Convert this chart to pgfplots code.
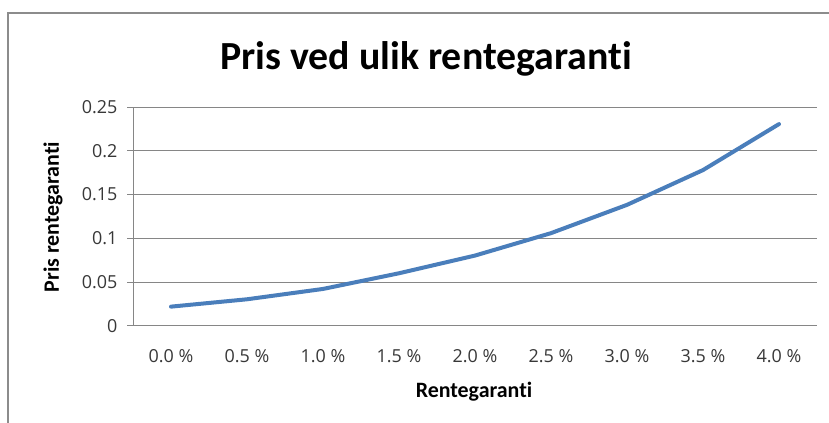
\documentclass[border=0pt]{standalone}
\usepackage{fontspec}
\setmainfont{Carlito}[Ligatures=NoCommon]
\newfontfamily\tickfont{Open Sans}
\usepackage{pgfplots}
\pgfplotsset{compat=1.18}
\definecolor{lineblue}{HTML}{4A7EBB}
\definecolor{gridgray}{HTML}{868686}
\definecolor{bordergray}{HTML}{8C8C8C}
\definecolor{ticktext}{HTML}{383838}
\begin{document}
\begin{tikzpicture}
\path[use as bounding box] (0,0) rectangle (829bp,423bp);
\fill[white] (0,0) rectangle (829bp,423bp);
\draw[bordergray, line width=2bp] (8bp,-5bp) -- (8bp,410bp) -- (840bp,410bp);
\begin{axis}[
  at={(133bp,97bp)}, anchor=south west,
  scale only axis, width=684bp, height=219bp,
  xmin=-0.5, xmax=8.5, ymin=0, ymax=0.25,
  xtick={0,1,2,3,4,5,6,7,8},
  xticklabels={0.0 \%,0.5 \%,1.0 \%,1.5 \%,2.0 \%,2.5 \%,3.0 \%,3.5 \%,4.0 \%},
  ytick={0,0.05,0.1,0.15,0.2,0.25},
  yticklabels={0,0.05,0.1,0.15,0.2,0.25},
  axis lines*=left,
  axis line style={gridgray, line width=1bp},
  ymajorgrids, grid style={gridgray, line width=1bp},
  tick align=outside, major tick length=6bp,
  ytick style={gridgray, line width=1bp},
  xtick style={draw=none},
  tick label style={font=\tickfont\fontsize{18}{18}\selectfont, text=ticktext},
  yticklabel style={xshift=-6bp},
  xticklabel style={yshift=-14bp},
]
\addplot[lineblue, line width=4bp, line join=round, line cap=round] coordinates {
  (0,0.0221) (1,0.0305) (2,0.0423) (3,0.0602) (4,0.0804)
  (5,0.106) (6,0.1383) (7,0.178) (8,0.2305)
};
\end{axis}
\node[anchor=base, font=\bfseries\fontsize{40}{40}\selectfont] at (426bp,353bp) {Pris ved ulik rentegaranti};
\node[rotate=90, font=\bfseries\fontsize{22}{22}\selectfont] at (53bp,206bp) {Pris rentegaranti};
\node[anchor=base, font=\bfseries\fontsize{22}{22}\selectfont] at (474bp,26bp) {Rentegaranti};
\end{tikzpicture}
\end{document}
